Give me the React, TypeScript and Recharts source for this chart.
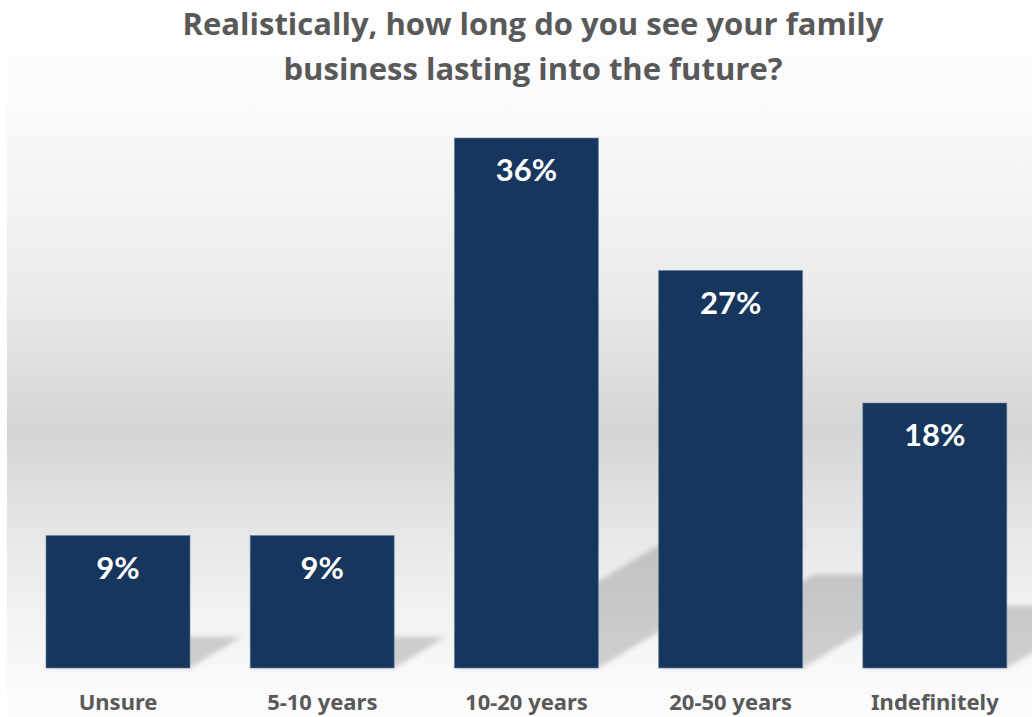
import { BarChart, Bar, XAxis, YAxis, LabelList } from "recharts";

const categories = ["Unsure", "5-10 years", "10-20 years", "20-50 years", "Indefinitely"];
const shares = [9, 9, 36, 27, 18];

const data = categories.map((name, i) => ({ name, value: shares[i] }));

const NAVY = "#17365d";
const GRAY_TEXT = "#595959";

// bar with a skewed drop shadow falling up and to the right
function ShadowBar(props: any) {
  const { x, y, width, height, index } = props;
  const base = y + height;
  const dx = height * 0.39;
  const dy = height * 0.235;
  const pts = [
    [x, base],
    [x + width, base],
    [x + width + dx, base - dy],
    [x + dx, base - dy],
  ]
    .map((p) => p.join(","))
    .join(" ");
  return (
    <g>
      {index === 0 && (
        <defs>
          <filter id="shadowBlur" x="-20%" y="-20%" width="140%" height="140%">
            <feGaussianBlur stdDeviation="2.5" />
          </filter>
        </defs>
      )}
      <polygon points={pts} fill="#000" fillOpacity={0.17} filter="url(#shadowBlur)" />
      <rect
        x={x}
        y={y}
        width={width}
        height={height}
        fill={NAVY}
        stroke="#6683a6"
        strokeOpacity={0.6}
        strokeWidth={1}
      />
    </g>
  );
}

function ValueLabel(props: any) {
  const { x, y, width, value } = props;
  return (
    <text
      x={x + width / 2}
      y={y + 43}
      textAnchor="middle"
      fill="#ffffff"
      fontFamily="Lato"
      fontWeight={700}
      fontSize={31}
    >
      {value}%
    </text>
  );
}

function CategoryTick(props: any) {
  const { x, y, payload } = props;
  return (
    <text
      x={x}
      y={y + 42}
      textAnchor="middle"
      fill={GRAY_TEXT}
      style={{ fontFamily: "Noto Sans", fontWeight: 700, fontSize: 22 }}
    >
      {payload.value}
    </text>
  );
}

export default function App() {
  return (
    <div
      style={{
        position: "absolute",
        left: 0,
        top: 0,
        width: 1032,
        height: 717,
        overflow: "hidden",
        background: "#ffffff",
      }}
    >
      <div
        style={{
          position: "absolute",
          left: 7,
          top: 0,
          right: 0,
          bottom: 0,
          background:
            "linear-gradient(to bottom, #ffffff 0%, #fbfbfb 14%, #ececec 40%, #d5d5d5 60%, #ebebeb 78%, #fafafa 95%, #fcfcfc 100%)",
        }}
      />
      <div
        style={{
          position: "absolute",
          left: 0,
          top: 1,
          width: 1066,
          textAlign: "center",
          fontFamily: "Open Sans",
          fontWeight: 700,
          fontSize: 31,
          lineHeight: "45px",
          color: GRAY_TEXT,
        }}
      >
        Realistically, how long do you see your family
        <br />
        business lasting into the future?
      </div>
      <div style={{ position: "absolute", left: 0, top: 0 }}>
        <BarChart
          width={1040}
          height={717}
          data={data}
          margin={{ top: 138, right: 3, left: 16, bottom: 0 }}
          barCategoryGap={30}
        >
          <YAxis hide domain={[0, 36]} />
          <XAxis
            dataKey="name"
            axisLine={false}
            tickLine={false}
            tickSize={0}
            tickMargin={0}
            height={49}
            interval={0}
            tick={<CategoryTick />}
          />
          <Bar dataKey="value" shape={<ShadowBar />} isAnimationActive={false}>
            <LabelList dataKey="value" content={<ValueLabel />} />
          </Bar>
        </BarChart>
      </div>
    </div>
  );
}
